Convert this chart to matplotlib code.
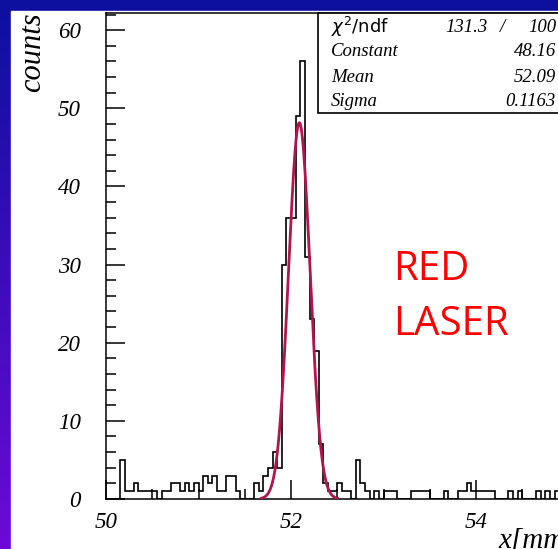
import numpy as np
import matplotlib
matplotlib.use("Agg")
import matplotlib.pyplot as plt
from matplotlib.ticker import MultipleLocator
from matplotlib.patches import Rectangle

# histogram: 100 bins from 50 to 55 mm
x_lo, x_hi = 50.0, 55.0
counts = [0, 0, 0, 5, 1, 1, 2, 1, 1, 1,
          1, 0, 1, 1, 2, 2, 1, 2, 1, 2,
          1, 3, 2, 3, 1, 1, 3, 3, 1, 0,
          0, 0, 2, 1, 3, 4, 6, 4, 30, 36,
          36, 49, 56, 31, 23, 19, 7, 2, 1, 1,
          2, 1, 1, 0, 5, 2, 1, 0, 1, 0,
          1, 1, 1, 0, 0, 0, 1, 1, 1, 1,
          0, 0, 0, 1, 0, 0, 1, 1, 2, 1,
          1, 1, 1, 1, 0, 0, 0, 1, 0, 1,
          0, 0, 0, 1, 0, 1, 0, 1, 0, 1]

# gaussian fit result
fit_const, fit_mean, fit_sigma = 48.16, 52.09, 0.1163
fit_range = (51.68, 52.50)
chi2_text, ndf_text = "131.3", "100"
stat_names = ["Constant", "Mean", "Sigma"]
stat_values = ["48.16", "52.09", "0.1163"]

x_ticks = [50, 52, 54]

W, H = 558, 549
fig = plt.figure(figsize=(W / 100, H / 100), dpi=100)


def px(x, y):
    return x / W, 1 - y / H


# slide background with white canvas
bg = fig.add_axes([0, 0, 1, 1], zorder=-10)
t = np.linspace(0, 1, 256)[:, None, None]
c_top = np.array([12, 16, 158]) / 255
c_bot = np.array([108, 10, 214]) / 255
bg.imshow(c_top + (c_bot - c_top) * t, aspect="auto", extent=[0, 1, 0, 1])
bg.add_patch(Rectangle((11 / W, 0), 1, 1 - 11 / H, color="white"))
bg.set_xlim(0, 1)
bg.set_ylim(0, 1)
bg.axis("off")

serif = dict(family="Liberation Serif", style="italic")

ax = fig.add_axes([106 / W, 50 / H, 462.5 / W, 486 / H])
ax.set_xlim(x_lo, x_hi)
ax.set_ylim(0, 62.2)

edges = np.linspace(x_lo, x_hi, len(counts) + 1)
ax.stairs(counts, edges, color="black", lw=1.2, zorder=3)

xs = np.linspace(fit_range[0], fit_range[1], 400)
ax.plot(xs, fit_const * np.exp(-0.5 * ((xs - fit_mean) / fit_sigma) ** 2),
        color="#b3144a", lw=2.0, zorder=4)

ax.set_xticks(x_ticks)
ax.xaxis.set_minor_locator(MultipleLocator(0.5))
ax.yaxis.set_major_locator(MultipleLocator(10))
ax.yaxis.set_minor_locator(MultipleLocator(2))
ax.tick_params(which="both", direction="in", top=False, right=False, width=1.1)
ax.tick_params(which="major", length=14)
ax.tick_params(which="minor", length=7)
ax.tick_params(axis="y", pad=18)
ax.tick_params(axis="x", pad=9)
for lab in ax.get_xticklabels() + ax.get_yticklabels():
    lab.set_fontfamily("Liberation Serif")
    lab.set_fontstyle("italic")
    lab.set_fontsize(16.5)
for s in ax.spines.values():
    s.set_linewidth(1.1)

# stats box
ax.add_patch(Rectangle((0.458, 0.794), 0.6, 0.206, transform=ax.transAxes,
                       facecolor="white", edgecolor="black", lw=1.2,
                       zorder=6, clip_on=False))
row_y = [27, 52, 77, 102]
fig.text(*px(331, row_y[0]), r"$\chi^{2}$/ndf", ha="left", va="center",
         fontsize=13, zorder=10)
fig.text(*px(488, row_y[0]), chi2_text, ha="right", va="center",
         fontsize=13.5, zorder=10, **serif)
fig.text(*px(502, row_y[0]), "/", ha="center", va="center",
         fontsize=13.5, zorder=10, **serif)
fig.text(*px(556, row_y[0]), ndf_text, ha="right", va="center",
         fontsize=13.5, zorder=10, **serif)
for name, val, y in zip(stat_names, stat_values, row_y[1:]):
    fig.text(*px(331, y), name, ha="left", va="center", fontsize=13.5,
             zorder=10, **serif)
    fig.text(*px(556, y), val, ha="right", va="center", fontsize=13.5,
             zorder=10, **serif)

# axis titles
fig.text(*px(33, 12), "counts", rotation=90, ha="center", va="top",
         fontsize=22, **serif)
fig.text(*px(498, 540), "x[mm]", ha="left", va="center", fontsize=21, **serif)

# annotation
fig.text(*px(393, 280), "RED", color="red", family="Open Sans",
         fontsize=29, va="baseline", ha="left")
fig.text(*px(393, 335), "LASER", color="red", family="Open Sans",
         fontsize=29, va="baseline", ha="left")

fig.savefig("out.png", dpi=100)
